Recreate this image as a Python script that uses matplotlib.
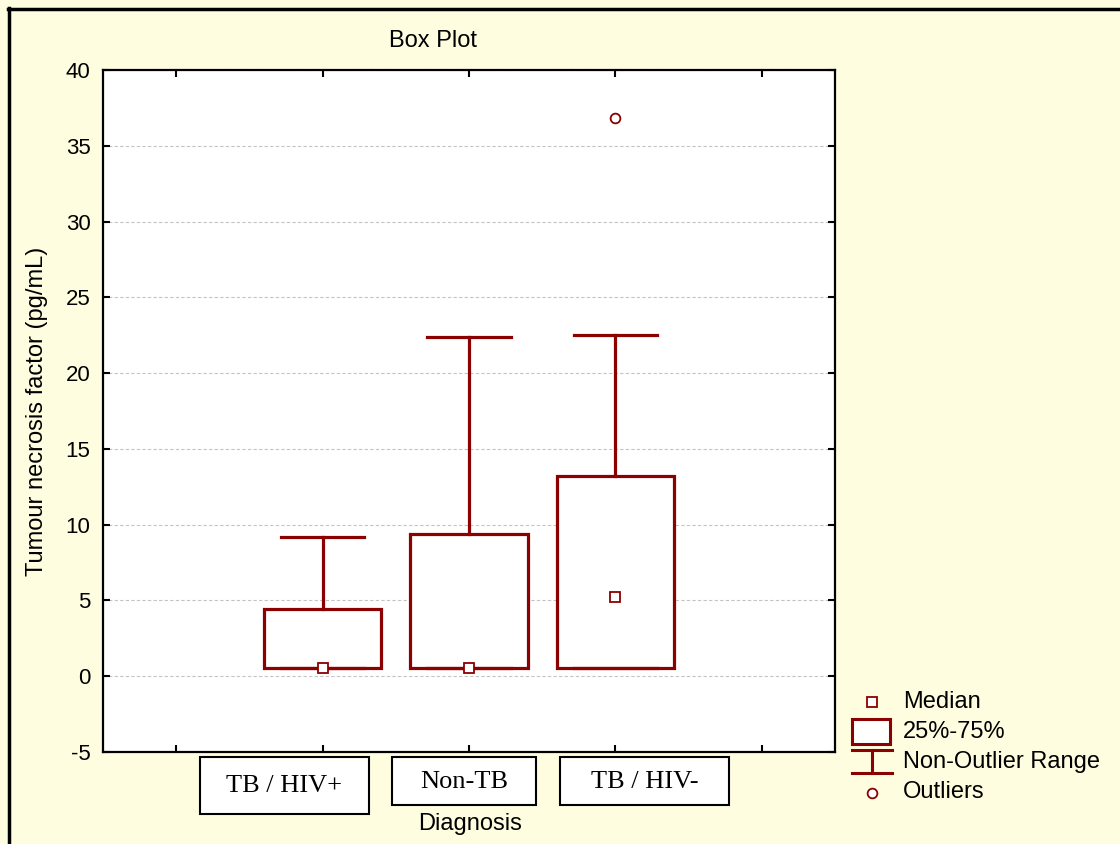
import numpy as np
import matplotlib
matplotlib.use("Agg")
import matplotlib.pyplot as plt
from matplotlib.patches import Rectangle

# ==========================================
# DATA
# ==========================================

categories = ["TB / HIV+", "Non-TB", "TB / HIV-"]
medians = [0.55, 0.55, 5.2]
q1 = [0.55, 0.55, 0.55]
q3 = [4.45, 9.4, 13.2]
whisker_low = [0.55, 0.55, 0.55]
whisker_high = [9.2, 22.4, 22.5]
outliers = [[], [], [36.8]]

y_ticks = [-5, 0, 5, 10, 15, 20, 25, 30, 35, 40]

# ==========================================
# STYLE / LAYOUT
# ==========================================

plt.rcParams["font.family"] = ["Liberation Sans", "DejaVu Sans"]

RED = "#8b0000"
BG = "#fffde0"

# pixel frames (left, top, right, bottom) of the category label boxes
label_frames = [(200, 757, 369, 814), (392, 757, 536, 805), (560, 757, 729, 805)]

fig = plt.figure(figsize=(11.2, 8.44), dpi=100, facecolor=BG)
ax = fig.add_axes([103 / 1120, 1 - 752 / 844, (835 - 103) / 1120, (752 - 70) / 844])
ax.set_facecolor("white")

# ==========================================
# BOXES
# ==========================================

positions = np.arange(1, len(categories) + 1)

stats = []
for i, name in enumerate(categories):
    stats.append({
        "label": name,
        "med": medians[i],
        "q1": q1[i],
        "q3": q3[i],
        "whislo": whisker_low[i],
        "whishi": whisker_high[i],
        "fliers": outliers[i],
    })

ax.bxp(
    stats,
    positions=positions,
    widths=0.8,
    capwidths=0.57,
    patch_artist=True,
    showfliers=False,
    boxprops=dict(facecolor="white", edgecolor=RED, linewidth=2.3),
    whiskerprops=dict(color=RED, linewidth=2.3),
    capprops=dict(color=RED, linewidth=2.3),
    medianprops=dict(visible=False),
    zorder=3,
)

ax.plot(
    positions, medians, linestyle="none", marker="s", markersize=7,
    markerfacecolor="white", markeredgecolor=RED, markeredgewidth=1.3, zorder=5
)

for pos, vals in zip(positions, outliers):
    if vals:
        ax.plot(
            [pos] * len(vals), vals, linestyle="none", marker="o", markersize=7,
            markerfacecolor="white", markeredgecolor=RED, markeredgewidth=1.3, zorder=5
        )

# ==========================================
# AXES
# ==========================================

ax.set_xlim(-0.5, 4.5)
ax.set_ylim(-5, 40)
ax.set_xticks(range(0, 5))
ax.set_xticklabels([])
ax.set_yticks(y_ticks)
ax.set_yticklabels([str(t) for t in y_ticks], fontsize=16)

ax.tick_params(direction="in", length=5, width=1.5, top=True, right=True, pad=9)
for s in ax.spines.values():
    s.set_linewidth(1.6)
    s.set_color("black")

ax.yaxis.grid(True, linestyle=(0, (3, 2)), color="#c4c4c4", linewidth=0.8, zorder=0)
ax.set_axisbelow(True)

ax.set_ylabel("Tumour necrosis factor (pg/mL)", fontsize=17)
ax.yaxis.set_label_coords(-0.075, 0.5)

# ==========================================
# OVERLAY (pixel coordinates): labels, legend, frame
# ==========================================

lg = fig.add_axes([0, 0, 1, 1], facecolor="none")
lg.set_xlim(0, 1120)
lg.set_ylim(844, 0)
lg.axis("off")

for name, (x0, y0, x1, y1) in zip(categories, label_frames):
    lg.add_patch(Rectangle((x0, y0), x1 - x0, y1 - y0, facecolor="white",
                           edgecolor="black", linewidth=1.5))
    lg.text((x0 + x1) / 2, (y0 + y1) / 2 + 1, name, ha="center", va="center",
            fontsize=19, family=["Liberation Serif", "DejaVu Serif"])

lg.text(470, 824, "Diagnosis", ha="center", va="center", fontsize=17)
lg.text(433, 41, "Box Plot", ha="center", va="center", fontsize=17)

lg.plot([872], [702], marker="s", markersize=7, markerfacecolor="white",
        markeredgecolor=RED, markeredgewidth=1.3, linestyle="none")
lg.add_patch(Rectangle((852, 719), 38, 25, facecolor="white", edgecolor=RED, linewidth=2.2))
lg.plot([852, 892], [750, 750], color=RED, linewidth=2.2)
lg.plot([852, 892], [773, 773], color=RED, linewidth=2.2)
lg.plot([872, 872], [750, 773], color=RED, linewidth=2.2)
lg.plot([872], [793], marker="o", markersize=7, markerfacecolor="white",
        markeredgecolor=RED, markeredgewidth=1.3, linestyle="none")

legend_labels = ["Median", "25%-75%", "Non-Outlier Range", "Outliers"]
legend_y = [702, 732, 762, 792]
for t, yy in zip(legend_labels, legend_y):
    lg.text(903, yy, t, ha="left", va="center", fontsize=17)

# outer frame lines
lg.plot([9, 9], [8, 844], color="black", linewidth=2.5)
lg.plot([8, 1120], [9, 9], color="black", linewidth=2.5)

fig.savefig("out.png", dpi=100, facecolor=BG)
